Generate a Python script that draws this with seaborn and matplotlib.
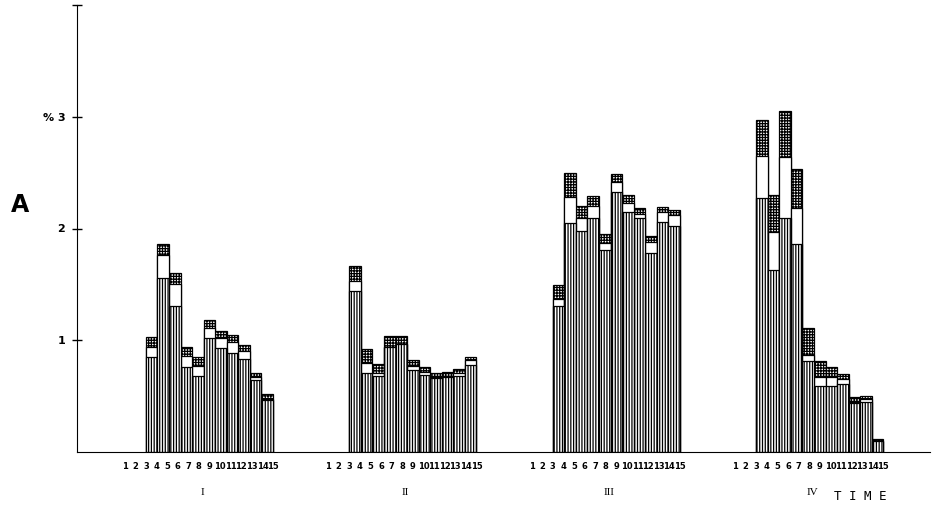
import matplotlib.pyplot as plt
import pandas as pd
import seaborn as sns

groups = ["I", "II", "III", "IV"]
times = list(range(3, 14))
tick_times = list(range(1, 16))

# upper edge (%) of the lined, blank and cross-hatched part of each bar
lined = {
    "I":   [0.85, 1.56, 1.31, 0.76, 0.68, 1.02, 0.93, 0.89, 0.83, 0.645, 0.465],
    "II":  [1.44, 0.71, 0.68, 0.94, 0.97, 0.73, 0.69, 0.66, 0.67, 0.68, 0.78],
    "III": [1.31, 2.05, 1.98, 2.09, 1.81, 2.33, 2.15, 2.09, 1.78, 2.06, 2.02],
    "IV":  [2.27, 1.63, 2.09, 1.86, 0.81, 0.59, 0.59, 0.61, 0.44, 0.45, 0.10],
}
blank = {
    "I":   [0.94, 1.76, 1.50, 0.86, 0.77, 1.11, 1.02, 0.98, 0.90, 0.67, 0.475],
    "II":  [1.53, 0.80, 0.71, 0.94, 0.97, 0.77, 0.72, 0.67, 0.68, 0.71, 0.82],
    "III": [1.37, 2.28, 2.09, 2.20, 1.87, 2.42, 2.23, 2.13, 1.88, 2.15, 2.12],
    "IV":  [2.65, 1.97, 2.64, 2.18, 0.87, 0.67, 0.67, 0.65, 0.45, 0.47, 0.10],
}
total = {
    "I":   [1.03, 1.86, 1.60, 0.94, 0.85, 1.18, 1.08, 1.05, 0.96, 0.71, 0.52],
    "II":  [1.66, 0.92, 0.79, 1.04, 1.04, 0.82, 0.76, 0.71, 0.72, 0.74, 0.85],
    "III": [1.49, 2.50, 2.20, 2.29, 1.95, 2.49, 2.30, 2.18, 1.93, 2.19, 2.17],
    "IV":  [2.97, 2.30, 3.05, 2.53, 1.11, 0.81, 0.76, 0.70, 0.49, 0.50, 0.12],
}

GROUP_STEP = 19.2
# 11 bars fill the space between tick 3 and tick 15 in the original
BAR_STEP = 12 / 11

rows = []
for gi, g in enumerate(groups):
    for k, t in enumerate(times):
        rows.append({"group": g, "time": t,
                     "pos": gi * GROUP_STEP + times[0] + (k + 0.5) * BAR_STEP,
                     "lined": lined[g][k], "blank": blank[g][k],
                     "total": total[g][k]})
df = pd.DataFrame(rows)

plt.rcParams["hatch.linewidth"] = 0.9

fig = plt.figure(figsize=(9.37, 5.08), dpi=100)
ax = fig.add_axes([77 / 937, 56 / 508, 853 / 937, 447 / 508])

# draw back to front: whole bar, blank part, lined part
for col, hatch in [("total", "++++++"), ("blank", None), ("lined", "||||||")]:
    sns.barplot(data=df, x="pos", y=col, native_scale=True, width=1,
                color="white", edgecolor="black", linewidth=0.9,
                hatch=hatch, errorbar=None, ax=ax)

ticks = [gi * GROUP_STEP + t for gi in range(len(groups)) for t in tick_times]
ax.set_xticks(ticks, [str(t) for _ in groups for t in tick_times])
ax.set_yticks([1, 2, 3, 4], ["1", "2", "% 3", ""])
ax.set_xlim(-3.5, 77.0)
ax.set_ylim(0, 4)
ax.set_xlabel("")
ax.set_ylabel("")
sns.despine(ax=ax)

ax.tick_params(axis="x", length=0, labelsize=6, pad=7)
ax.tick_params(axis="y", direction="inout", length=7, width=1, labelsize=8, pad=5)
for lab in ax.get_xticklabels() + ax.get_yticklabels():
    lab.set_fontweight("bold")

for gi, g in enumerate(groups):
    ax.text(gi * GROUP_STEP + 8.3, -0.36, g, ha="center", va="center",
            family="Liberation Serif", fontsize=8)

fig.text(860 / 937, 1 - 496 / 508, "T I M E", ha="center", va="center",
         family="DejaVu Sans Mono", fontsize=9)
fig.text(20 / 937, 1 - 205 / 508, "A", ha="center", va="center",
         fontsize=17, fontweight="bold")

fig.savefig("out.png", dpi=100)
